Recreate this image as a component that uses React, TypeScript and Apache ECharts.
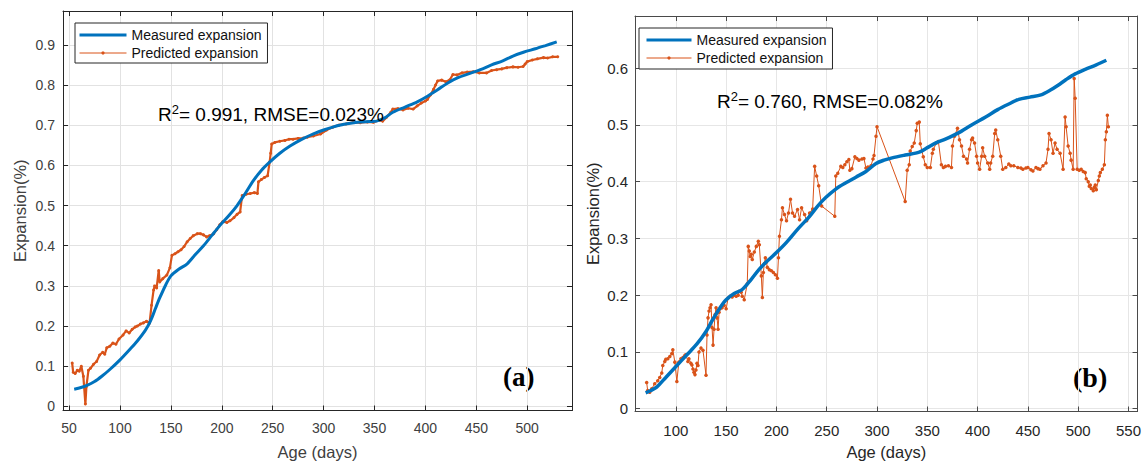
import React, { useEffect, useRef } from 'react';
import * as echarts from 'echarts';

// ---------- data ----------
const seriesNames = ['Measured expansion', 'Predicted expansion'];
const annotationA = { r2: '0.991', rmse: '0.023%' };
const annotationB = { r2: '0.760', rmse: '0.082%' };
const panelLabels = ['(a)', '(b)'];
const xAxisTitle = 'Age (days)';
const yAxisTitle = 'Expansion(%)';

const measuredA: [number, number][] = [
  [55, 0.043], [60, 0.046], [67, 0.052], [75, 0.062], [83, 0.077], [90, 0.092], [100, 0.116],
  [110, 0.143], [117, 0.163], [125, 0.19], [130, 0.213], [135, 0.245], [139, 0.27], [145, 0.303],
  [150, 0.325], [158, 0.342], [166, 0.355], [174, 0.378], [182, 0.4], [190, 0.425], [198, 0.45],
  [207, 0.475], [215, 0.5], [223, 0.53], [231, 0.562], [239, 0.588], [247, 0.608], [257, 0.63],
  [267, 0.648], [278, 0.664], [290, 0.678], [300, 0.688], [309, 0.695], [320, 0.702], [333, 0.707],
  [345, 0.709], [352, 0.71], [360, 0.718], [368, 0.732], [380, 0.745], [392, 0.758], [402, 0.772],
  [412, 0.788], [422, 0.805], [432, 0.818], [443, 0.828], [454, 0.838], [465, 0.85], [476, 0.86],
  [486, 0.872], [497, 0.882], [508, 0.89], [518, 0.898], [529, 0.907],
];

const predictedA: [number, number][] = [
  [53, 0.108], [54, 0.085], [56, 0.082], [58, 0.09], [60, 0.088], [62, 0.1], [64, 0.075], [66, 0.006],
  [67, 0.05], [69, 0.09], [71, 0.095], [74, 0.105], [77, 0.112], [80, 0.128], [83, 0.135], [85, 0.13],
  [87, 0.146], [90, 0.15], [93, 0.158], [96, 0.155], [99, 0.168], [103, 0.178], [106, 0.188], [109, 0.183],
  [112, 0.192], [115, 0.198], [117, 0.2], [120, 0.205], [123, 0.208], [126, 0.212], [129, 0.207],
  [131, 0.252], [133, 0.29], [134, 0.3], [136, 0.295], [138, 0.338], [139, 0.31], [142, 0.318],
  [146, 0.327], [149, 0.345], [151, 0.376], [154, 0.38], [157, 0.385], [160, 0.39], [163, 0.398],
  [166, 0.41], [169, 0.418], [172, 0.425], [176, 0.43], [179, 0.43], [182, 0.427], [185, 0.422],
  [188, 0.425], [192, 0.43], [195, 0.44], [198, 0.452], [201, 0.46], [205, 0.458], [208, 0.462],
  [212, 0.47], [215, 0.478], [218, 0.484], [220, 0.525], [224, 0.528], [228, 0.53], [232, 0.532],
  [235, 0.53], [236, 0.559], [239, 0.565], [242, 0.57], [245, 0.574], [247, 0.608], [248, 0.63],
  [249, 0.653], [252, 0.657], [257, 0.66], [262, 0.662], [266, 0.665], [270, 0.665], [275, 0.667],
  [280, 0.668], [284, 0.67], [290, 0.673], [297, 0.678], [303, 0.688], [309, 0.695], [315, 0.7],
  [322, 0.703], [329, 0.707], [336, 0.706], [343, 0.708], [349, 0.707], [355, 0.712], [358, 0.71],
  [362, 0.72], [366, 0.732], [368, 0.74], [373, 0.741], [378, 0.738], [383, 0.742], [388, 0.74],
  [392, 0.748], [396, 0.755], [400, 0.76], [402, 0.764], [405, 0.775], [408, 0.789], [410, 0.8],
  [412, 0.81], [416, 0.812], [420, 0.808], [424, 0.813], [427, 0.826], [431, 0.825], [436, 0.83],
  [441, 0.832], [447, 0.833], [453, 0.83], [460, 0.83], [465, 0.836], [470, 0.838], [475, 0.84],
  [480, 0.843], [486, 0.845], [491, 0.844], [496, 0.846], [498, 0.852], [500, 0.858], [505, 0.862],
  [510, 0.865], [516, 0.868], [520, 0.867], [525, 0.87], [530, 0.87],
];

const measuredB: [number, number][] = [
  [70, 0.028], [75, 0.032], [81, 0.038], [90, 0.055], [101, 0.076], [111, 0.095], [121, 0.114],
  [130, 0.136], [137, 0.158], [144, 0.178], [150, 0.192], [158, 0.203], [166, 0.21], [175, 0.228],
  [183, 0.246], [192, 0.262], [200, 0.275], [210, 0.293], [221, 0.316], [233, 0.339], [241, 0.357],
  [249, 0.372], [259, 0.387], [269, 0.398], [279, 0.408], [289, 0.418], [299, 0.432], [307, 0.438],
  [315, 0.442], [328, 0.447], [342, 0.452], [350, 0.46], [358, 0.468], [368, 0.475], [381, 0.486],
  [394, 0.5], [408, 0.514], [420, 0.527], [430, 0.536], [441, 0.545], [452, 0.549], [463, 0.553],
  [472, 0.561], [480, 0.57], [488, 0.58], [497, 0.59], [507, 0.598], [518, 0.606], [528, 0.614],
];

const predictedB: [number, number][] = [
  [71, 0.046], [72, 0.032], [74, 0.029], [76, 0.035], [79, 0.044], [82, 0.049], [84, 0.055], [86, 0.063],
  [87, 0.076], [89, 0.083], [90, 0.087], [92, 0.088], [94, 0.092], [96, 0.097], [97, 0.104], [99, 0.082],
  [101, 0.048], [103, 0.082], [105, 0.088], [107, 0.09], [109, 0.094], [110, 0.095], [112, 0.083],
  [113, 0.088], [115, 0.08], [116, 0.077], [117, 0.07], [118, 0.064], [119, 0.06], [120, 0.068],
  [121, 0.08], [122, 0.076], [123, 0.1], [125, 0.107], [127, 0.103], [130, 0.059], [131, 0.13],
  [132, 0.16], [133, 0.172], [134, 0.178], [135, 0.183], [136, 0.143], [137, 0.112], [138, 0.14],
  [139, 0.166], [140, 0.178], [141, 0.16], [142, 0.14], [143, 0.17], [144, 0.176], [146, 0.178],
  [148, 0.182], [150, 0.176], [152, 0.195], [154, 0.198], [156, 0.197], [158, 0.2], [160, 0.198],
  [162, 0.2], [163, 0.207], [165, 0.205], [166, 0.198], [168, 0.192], [171, 0.22], [172, 0.286],
  [173, 0.278], [174, 0.268], [175, 0.272], [176, 0.263], [178, 0.276], [180, 0.286], [182, 0.295],
  [183, 0.289], [185, 0.234], [186, 0.196], [187, 0.24], [188, 0.256], [189, 0.266], [190, 0.258],
  [191, 0.249], [193, 0.245], [195, 0.243], [197, 0.24], [199, 0.236], [201, 0.23], [202, 0.266],
  [203, 0.304], [205, 0.333], [206, 0.354], [208, 0.342], [210, 0.331], [212, 0.345], [214, 0.369],
  [216, 0.345], [218, 0.339], [221, 0.351], [223, 0.333], [225, 0.354], [228, 0.342], [230, 0.331],
  [233, 0.345], [236, 0.352], [238, 0.427], [240, 0.41], [242, 0.393], [245, 0.357], [258, 0.339],
  [259, 0.41], [261, 0.415], [264, 0.427], [266, 0.425], [268, 0.43], [270, 0.435], [272, 0.439],
  [273, 0.42], [275, 0.423], [278, 0.444], [280, 0.441], [282, 0.438], [285, 0.44], [287, 0.441],
  [289, 0.424], [291, 0.426], [294, 0.428], [296, 0.44], [297, 0.446], [299, 0.48], [300, 0.497],
  [328, 0.365], [330, 0.42], [332, 0.43], [333, 0.454], [335, 0.462], [337, 0.468], [339, 0.49],
  [340, 0.503], [342, 0.505], [343, 0.467], [346, 0.444], [348, 0.43], [350, 0.425], [353, 0.425],
  [355, 0.45], [356, 0.457], [359, 0.468], [361, 0.471], [364, 0.43], [366, 0.425], [368, 0.427],
  [371, 0.428], [374, 0.425], [375, 0.463], [377, 0.48], [380, 0.494], [382, 0.474], [384, 0.463],
  [386, 0.445], [389, 0.44], [390, 0.433], [392, 0.457], [394, 0.474], [395, 0.477], [397, 0.468],
  [399, 0.445], [400, 0.433], [402, 0.422], [404, 0.445], [405, 0.46], [407, 0.445], [410, 0.433],
  [412, 0.422], [413, 0.433], [415, 0.445], [417, 0.485], [418, 0.491], [420, 0.474], [423, 0.445],
  [425, 0.422], [428, 0.425], [431, 0.431], [433, 0.428], [436, 0.428], [440, 0.425], [443, 0.424],
  [445, 0.422], [448, 0.424], [450, 0.425], [453, 0.421], [455, 0.419], [458, 0.425], [460, 0.423],
  [462, 0.422], [465, 0.428], [468, 0.433], [470, 0.457], [471, 0.485], [473, 0.474], [475, 0.45],
  [477, 0.468], [479, 0.457], [482, 0.45], [485, 0.422], [487, 0.514], [488, 0.497], [490, 0.463],
  [492, 0.45], [493, 0.438], [495, 0.422], [496, 0.582], [497, 0.547], [499, 0.422], [501, 0.42],
  [503, 0.422], [505, 0.418], [507, 0.416], [508, 0.405], [510, 0.4], [511, 0.392], [512, 0.394],
  [513, 0.388], [515, 0.384], [516, 0.39], [517, 0.394], [518, 0.386], [520, 0.402], [521, 0.41],
  [522, 0.416], [524, 0.422], [526, 0.43], [527, 0.474], [528, 0.488], [529, 0.517], [530, 0.497],
];

// ---------- styling ----------
const FONT = "'Liberation Sans', Arial, Helvetica, sans-serif";
const BLUE = '#0072BD';
const ORANGE = '#D95319';

const fmtX = (v: number) => (Math.abs(v / 50 - Math.round(v / 50)) < 1e-6 ? String(Math.round(v)) : '');
const fmtY = (v: number) => (Math.abs(v * 10 - Math.round(v * 10)) < 1e-6 ? String(Math.round(v * 10) / 10) : '');

type PanelStyle = {
  grid: number; xmin: number; xmax: number; ymin: number; ymax: number;
  axisColor: string; labelColor: string; gridColor: string; fontSize: number;
  xLabelMargin: number; yLabelMargin: number; xNameGap: number; yNameGap: number; ySplit: number;
};

function axesFor(p: PanelStyle) {
  const line = { show: true, onZero: false, lineStyle: { color: p.axisColor, width: 1 } };
  const tick = { show: true, inside: true, length: 5, lineStyle: { color: p.axisColor, width: 1 } };
  const nameStyle = { fontFamily: FONT, fontSize: 16.5, color: p.labelColor, verticalAlign: 'middle' as const };
  const x = [
    {
      type: 'value', gridIndex: p.grid, min: p.xmin, max: p.xmax, splitNumber: 10, position: 'bottom',
      axisLine: line, axisTick: tick,
      axisLabel: { formatter: fmtX, color: p.labelColor, fontSize: p.fontSize, fontFamily: FONT, margin: p.xLabelMargin },
      splitLine: { show: true, lineStyle: { color: p.gridColor, width: 1 } },
      name: xAxisTitle, nameLocation: 'middle', nameGap: p.xNameGap, nameTextStyle: nameStyle,
    },
    {
      type: 'value', gridIndex: p.grid, min: p.xmin, max: p.xmax, splitNumber: 10, position: 'top',
      axisLine: line, axisTick: tick, axisLabel: { show: false }, splitLine: { show: false },
    },
  ];
  const y = [
    {
      type: 'value', gridIndex: p.grid, min: p.ymin, max: p.ymax, splitNumber: p.ySplit, position: 'left',
      axisLine: line, axisTick: tick,
      axisLabel: { formatter: fmtY, color: p.labelColor, fontSize: p.fontSize, fontFamily: FONT, margin: p.yLabelMargin },
      splitLine: { show: true, lineStyle: { color: p.gridColor, width: 1 } },
      name: yAxisTitle, nameLocation: 'middle', nameGap: p.yNameGap, nameTextStyle: nameStyle,
    },
    {
      type: 'value', gridIndex: p.grid, min: p.ymin, max: p.ymax, splitNumber: p.ySplit, position: 'right',
      axisLine: line, axisTick: tick, axisLabel: { show: false }, splitLine: { show: false },
    },
  ];
  return { x, y };
}

const panelA: PanelStyle = {
  grid: 0, xmin: 44, xmax: 544, ymin: -0.01, ymax: 0.984,
  axisColor: '#262626', labelColor: '#404040', gridColor: '#e2e2e2', fontSize: 14,
  xLabelMargin: 10, yLabelMargin: 8, xNameGap: 41, yNameGap: 43, ySplit: 10,
};
const panelB: PanelStyle = {
  grid: 1, xmin: 59.4, xmax: 559, ymin: -0.005, ymax: 0.692,
  axisColor: '#4a4a4a', labelColor: '#262626', gridColor: '#e6e6e6', fontSize: 15,
  xLabelMargin: 11, yLabelMargin: 7, xNameGap: 40, yNameGap: 42, ySplit: 7,
};

function annotation(x: number, y: number, vals: { r2: string; rmse: string }) {
  return {
    type: 'text', x, y, z: 10,
    style: {
      text: `{r|R}{s|2}{r|= ${vals.r2}, RMSE=${vals.rmse}}`,
      verticalAlign: 'middle',
      rich: {
        r: { fontFamily: FONT, fontSize: 19, color: '#111', lineHeight: 22 },
        s: { fontFamily: FONT, fontSize: 13, color: '#111', lineHeight: 11, verticalAlign: 'top' },
      },
    },
  };
}

function panelTag(x: number, y: number, text: string, size: number) {
  return {
    type: 'text', x, y,
    style: {
      text, fontFamily: "'Liberation Serif', 'Times New Roman', serif", fontWeight: 'bold',
      fontSize: size, fill: '#000', verticalAlign: 'middle',
    },
  };
}

function legendFor(left: number, top: number, iconW: number, pad: number[], fs: number, orangeW: number) {
  return {
    orient: 'vertical', left, top, itemWidth: iconW, itemHeight: 4, itemGap: 2, padding: pad,
    backgroundColor: '#fff', borderColor: '#262626', borderWidth: 1, borderRadius: 0,
    textStyle: { fontFamily: FONT, fontSize: fs, color: '#111', lineHeight: 16 },
    data: [
      { name: seriesNames[0], lineStyle: { color: BLUE, width: 3 }, itemStyle: { opacity: 0 } },
      { name: seriesNames[1], lineStyle: { color: ORANGE, width: orangeW }, itemStyle: { color: ORANGE } },
    ],
  };
}

export default function App() {
  const ref = useRef<HTMLDivElement>(null);
  useEffect(() => {
    if (!ref.current) return;
    const chart = echarts.init(ref.current, undefined, { renderer: 'svg' });
    const a = axesFor(panelA);
    const b = axesFor(panelB);
    chart.setOption({
      animation: false,
      backgroundColor: '#fff',
      grid: [
        { left: 63, top: 11, width: 509, height: 402, show: false },
        { left: 635, top: 16, width: 504, height: 397, show: false },
      ],
      xAxis: [...a.x, ...b.x],
      yAxis: [...a.y, ...b.y],
      legend: [
        legendFor(75, 23, 47, [4, 6, 2, 3], 14, 1),
        legendFor(639, 28, 45, [4, 6, 3, 6], 14, 1),
      ],
      series: [
        {
          name: seriesNames[0], type: 'line', xAxisIndex: 0, yAxisIndex: 0, data: measuredA,
          symbol: 'none', smooth: 0.3, lineStyle: { color: BLUE, width: 3 }, itemStyle: { color: BLUE }, z: 3,
        },
        {
          name: seriesNames[1], type: 'line', xAxisIndex: 0, yAxisIndex: 0, data: predictedA,
          symbol: 'circle', symbolSize: 3, showSymbol: true, lineStyle: { color: ORANGE, width: 2.2 },
          itemStyle: { color: ORANGE }, z: 2,
        },
        {
          name: seriesNames[0], type: 'line', xAxisIndex: 2, yAxisIndex: 2, data: measuredB,
          symbol: 'none', smooth: 0.3, lineStyle: { color: BLUE, width: 3.5 }, itemStyle: { color: BLUE }, z: 4,
        },
        {
          name: seriesNames[1], type: 'line', xAxisIndex: 2, yAxisIndex: 2, data: predictedB,
          symbol: 'circle', symbolSize: 3.5, showSymbol: true, lineStyle: { color: ORANGE, width: 1 },
          itemStyle: { color: ORANGE }, z: 3,
        },
      ],
      graphic: [
        annotation(158, 114, annotationA),
        annotation(717, 101, annotationB),
        panelTag(503, 377, panelLabels[0], 27),
        panelTag(1073, 377, panelLabels[1], 28),
      ],
    });
    return () => chart.dispose();
  }, []);
  return <div ref={ref} style={{ position: 'fixed', left: 0, top: 0, width: 1144, height: 465, background: '#fff' }} />;
}
